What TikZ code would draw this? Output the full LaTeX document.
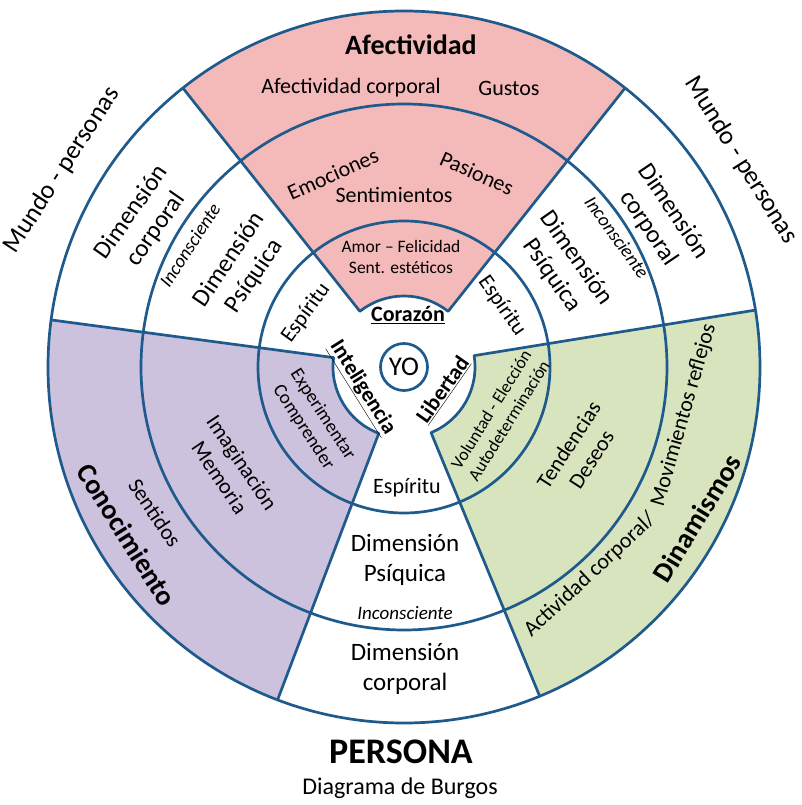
\documentclass[tikz,border=0pt]{standalone}
\usepackage{fontspec}
\setmainfont{Carlito}
\definecolor{ln}{RGB}{31,90,140}
\definecolor{pk}{RGB}{244,185,185}
\definecolor{pu}{RGB}{205,194,222}
\definecolor{gr}{RGB}{215,228,190}
\newcommand{\sectorfill}[3]{\fill[#1] (#2:71pt) arc[start angle=#2, end angle=#3, radius=71pt] -- (#3:356pt) arc[start angle=#3, end angle=#2, radius=356pt] -- cycle;}
\newcommand{\sectorline}[2]{\draw[ring] (#1:356pt) -- (#1:71pt) arc[start angle=#1, end angle=#2, radius=71pt] -- (#2:356pt);}
\begin{document}
\begin{tikzpicture}[x=1pt,y=1pt,
  ring/.style={draw=ln, line width=2.7pt, line join=round},
  t/.style={inner sep=0pt, align=center, font=\fontsize{22}{27}\selectfont},
  tdim/.style={inner sep=0pt, align=center, font=\fontsize{25}{30}\selectfont},
  tsm/.style={inner sep=0pt, align=center, font=\fontsize{17.5}{21}\selectfont},
  tinc/.style={inner sep=0pt, align=center, font=\fontsize{19}{22}\selectfont\itshape},
  tbig/.style={inner sep=0pt, align=center, font=\fontsize{28}{32}\selectfont\bfseries},
  tkey/.style={inner sep=0pt, align=center, font=\fontsize{22}{25}\selectfont\bfseries},
  tmundo/.style={inner sep=0pt, align=center, font=\fontsize{26}{30}\selectfont}]
\useasboundingbox (-404,-438) rectangle (398,367);
\fill[white] (-404,-438) rectangle (398,367);
% sector fills
\sectorfill{pk}{51.6}{128.4}
\sectorfill{pu}{172.4}{249.2}
\sectorfill{gr}{292.4}{369.2}
% circles
\draw[ring] (0,0) circle[radius=356pt];
\draw[ring] (0,0) circle[radius=263pt];
\draw[ring] (0,0) circle[radius=146pt];
% sector outlines
\sectorline{51.6}{128.4}
\sectorline{172.4}{249.2}
\sectorline{292.4}{369.2}
% YO
\node[draw=ln, line width=2.7pt, circle, minimum size=47pt, inner sep=0pt, font=\fontsize{27}{30}\selectfont] (yo) at (0,0) {YO};
% Afectividad
\node[tbig] (afe) at (7,322) {Afectividad};
\node[t] (afc) at (-53,279) {Afectividad corporal};
\node[t] (gus) at (105,279) {Gustos};
\node[t, rotate=24] (emo) at (-71,193) {Emociones};
\node[t] (sen) at (-10,172) {Sentimientos};
\node[t, rotate=-24] (pas) at (73,194) {Pasiones};
\node[tsm] (amo) at (-3,110) {Amor -- Felicidad\\Sent. estéticos};
\node[tkey] (cor) at (4,52) {\underline{Corazón}};
\node[tkey, rotate=-58] (int) at (-42,-21) {\underline{Inteligencia}};
\node[tkey, rotate=55] (lib) at (39,-23) {\underline{Libertad}};
% Conocimiento
\node[tbig, rotate=-58] (con) at (-277,-168) {Conocimiento};
\node[t, rotate=-56] (sent) at (-249,-146) {Sentidos};
\node[t, rotate=-56] (ima) at (-173,-103) {Imaginación\\Memoria};
\node[t, font=\fontsize{19}{23}\selectfont, rotate=-57] (exp) at (-91,-54) {Experimentar\\Comprender};
% Dinamismos
\node[tbig, rotate=58.5] (din) at (293,-151) {Dinamismos};
\node[t, rotate=43] (act) at (186,-208) {Actividad corporal/};
\node[t, rotate=74] (mov) at (280,-48) {Movimientos reflejos};
\node[t, rotate=57] (ten) at (176,-85) {Tendencias\\Deseos};
\node[tsm, rotate=58] (vol) at (96,-48) {Voluntad - Elección\\Autodeterminación};
% upper left
\node[tmundo, rotate=57] (mu1) at (-342,197) {Mundo - personas};
\node[tdim, rotate=55] (dc1) at (-260,146) {Dimensión\\corporal};
\node[tinc, rotate=57] (in1) at (-214,122) {Inconsciente};
\node[tdim, rotate=56] (dp1) at (-162,99) {Dimensión\\Psíquica};
\node[t, rotate=54] (es1) at (-98,54) {Espíritu};
% upper right
\node[tmundo, rotate=-58] (mu2) at (337,207) {Mundo - personas};
\node[tdim, rotate=-56] (dc2) at (257,147) {Dimensión\\corporal};
\node[tinc, rotate=-54] (in2) at (213,130) {Inconsciente};
\node[tdim, rotate=-55] (dp2) at (160,100) {Dimensión\\Psíquica};
\node[t, rotate=-55] (es2) at (98,61) {Espíritu};
% bottom
\node[t] (es3) at (3,-121) {Espíritu};
\node[tdim] (dp3) at (1,-193) {Dimensión\\Psíquica};
\node[tinc] (in3) at (1,-246) {Inconsciente};
\node[tdim] (dc3) at (1,-302) {Dimensión\\corporal};
% title
\node[inner sep=0pt, font=\fontsize{36}{40}\selectfont\bfseries] (per) at (-3,-385) {PERSONA};
\node[inner sep=0pt, font=\fontsize{24}{28}\selectfont] (dia) at (-4,-421) {Diagrama de Burgos};
\end{tikzpicture}
\end{document}
